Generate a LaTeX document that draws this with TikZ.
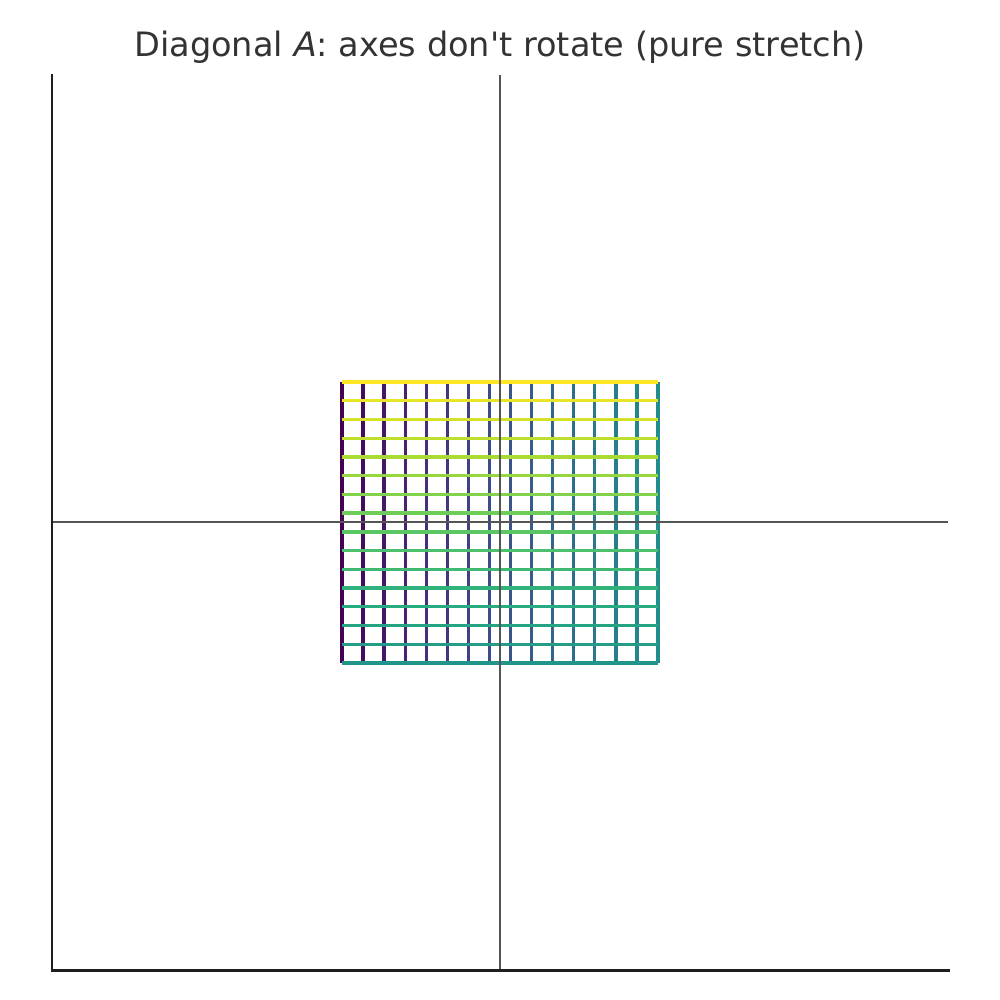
\documentclass[tikz,border=0pt]{standalone}
\usepackage{fontspec}
\setmainfont{DejaVu Sans}
\usetikzlibrary{positioning}
% viridis stops
\definecolor{v0}{HTML}{440154}
\definecolor{v1}{HTML}{472C7A}
\definecolor{v2}{HTML}{3B528B}
\definecolor{v3}{HTML}{2C728E}
\definecolor{v4}{HTML}{21918C}
\definecolor{v5}{HTML}{28AE80}
\definecolor{v6}{HTML}{5EC962}
\definecolor{v7}{HTML}{ADDC30}
\definecolor{v8}{HTML}{FDE725}
\definecolor{axgray}{HTML}{555555}
\definecolor{spine}{HTML}{1F1F1F}
\definecolor{titlegray}{HTML}{333333}
\begin{document}
\begin{tikzpicture}[x=0.01cm,y=-0.01cm,
  gline/.style={line width=0.95pt},
  axline/.style={draw=axgray,line width=0.8pt},
  spineline/.style={draw=spine,line width=0.85pt,line cap=rect}]
  \useasboundingbox (0,0) rectangle (1000,1000);
  % title
  \node[font=\fontsize{9.55}{11}\selectfont,text=titlegray] (title) at (500,47)
    {Diagonal \textit{A}: axes don\textquotesingle t rotate (pure stretch)};
  % frame corners
  \coordinate (tl) at (52,75);
  \coordinate (bl) at (52,970);
  \coordinate (br) at (948,970);
  \coordinate (top) at (500,75);
  \coordinate (bot) at (500,970);
  \coordinate (lft) at (52,522);
  \coordinate (rgt) at (948,522);
  % grid, coloured by line index
  \foreach \k in {0,...,31}{
    \pgfmathsetmacro\t{\k/31*8}
    \pgfmathtruncatemacro\s{min(floor(\t),7)}
    \pgfmathtruncatemacro\sn{\s+1}
    \pgfmathsetmacro\p{(\sn-\t)*100}
    \colorlet{lc}{v\s!\p!v\sn}
    \ifnum\k<16
      \pgfmathsetmacro\gx{342+\k*316/15}
      \draw[gline,lc] (\gx,382) -- (\gx,663);
    \else
      \pgfmathsetmacro\gy{663-(\k-16)*281/15}
      \draw[gline,lc] (342,\gy) -- (658,\gy);
    \fi
  }
  % centre axes
  \draw[axline] (top) -- (bot);
  \draw[axline] (lft) -- (rgt);
  % spines
  \draw[spineline] (tl) -- (bl) -- (br);
\end{tikzpicture}
\end{document}
